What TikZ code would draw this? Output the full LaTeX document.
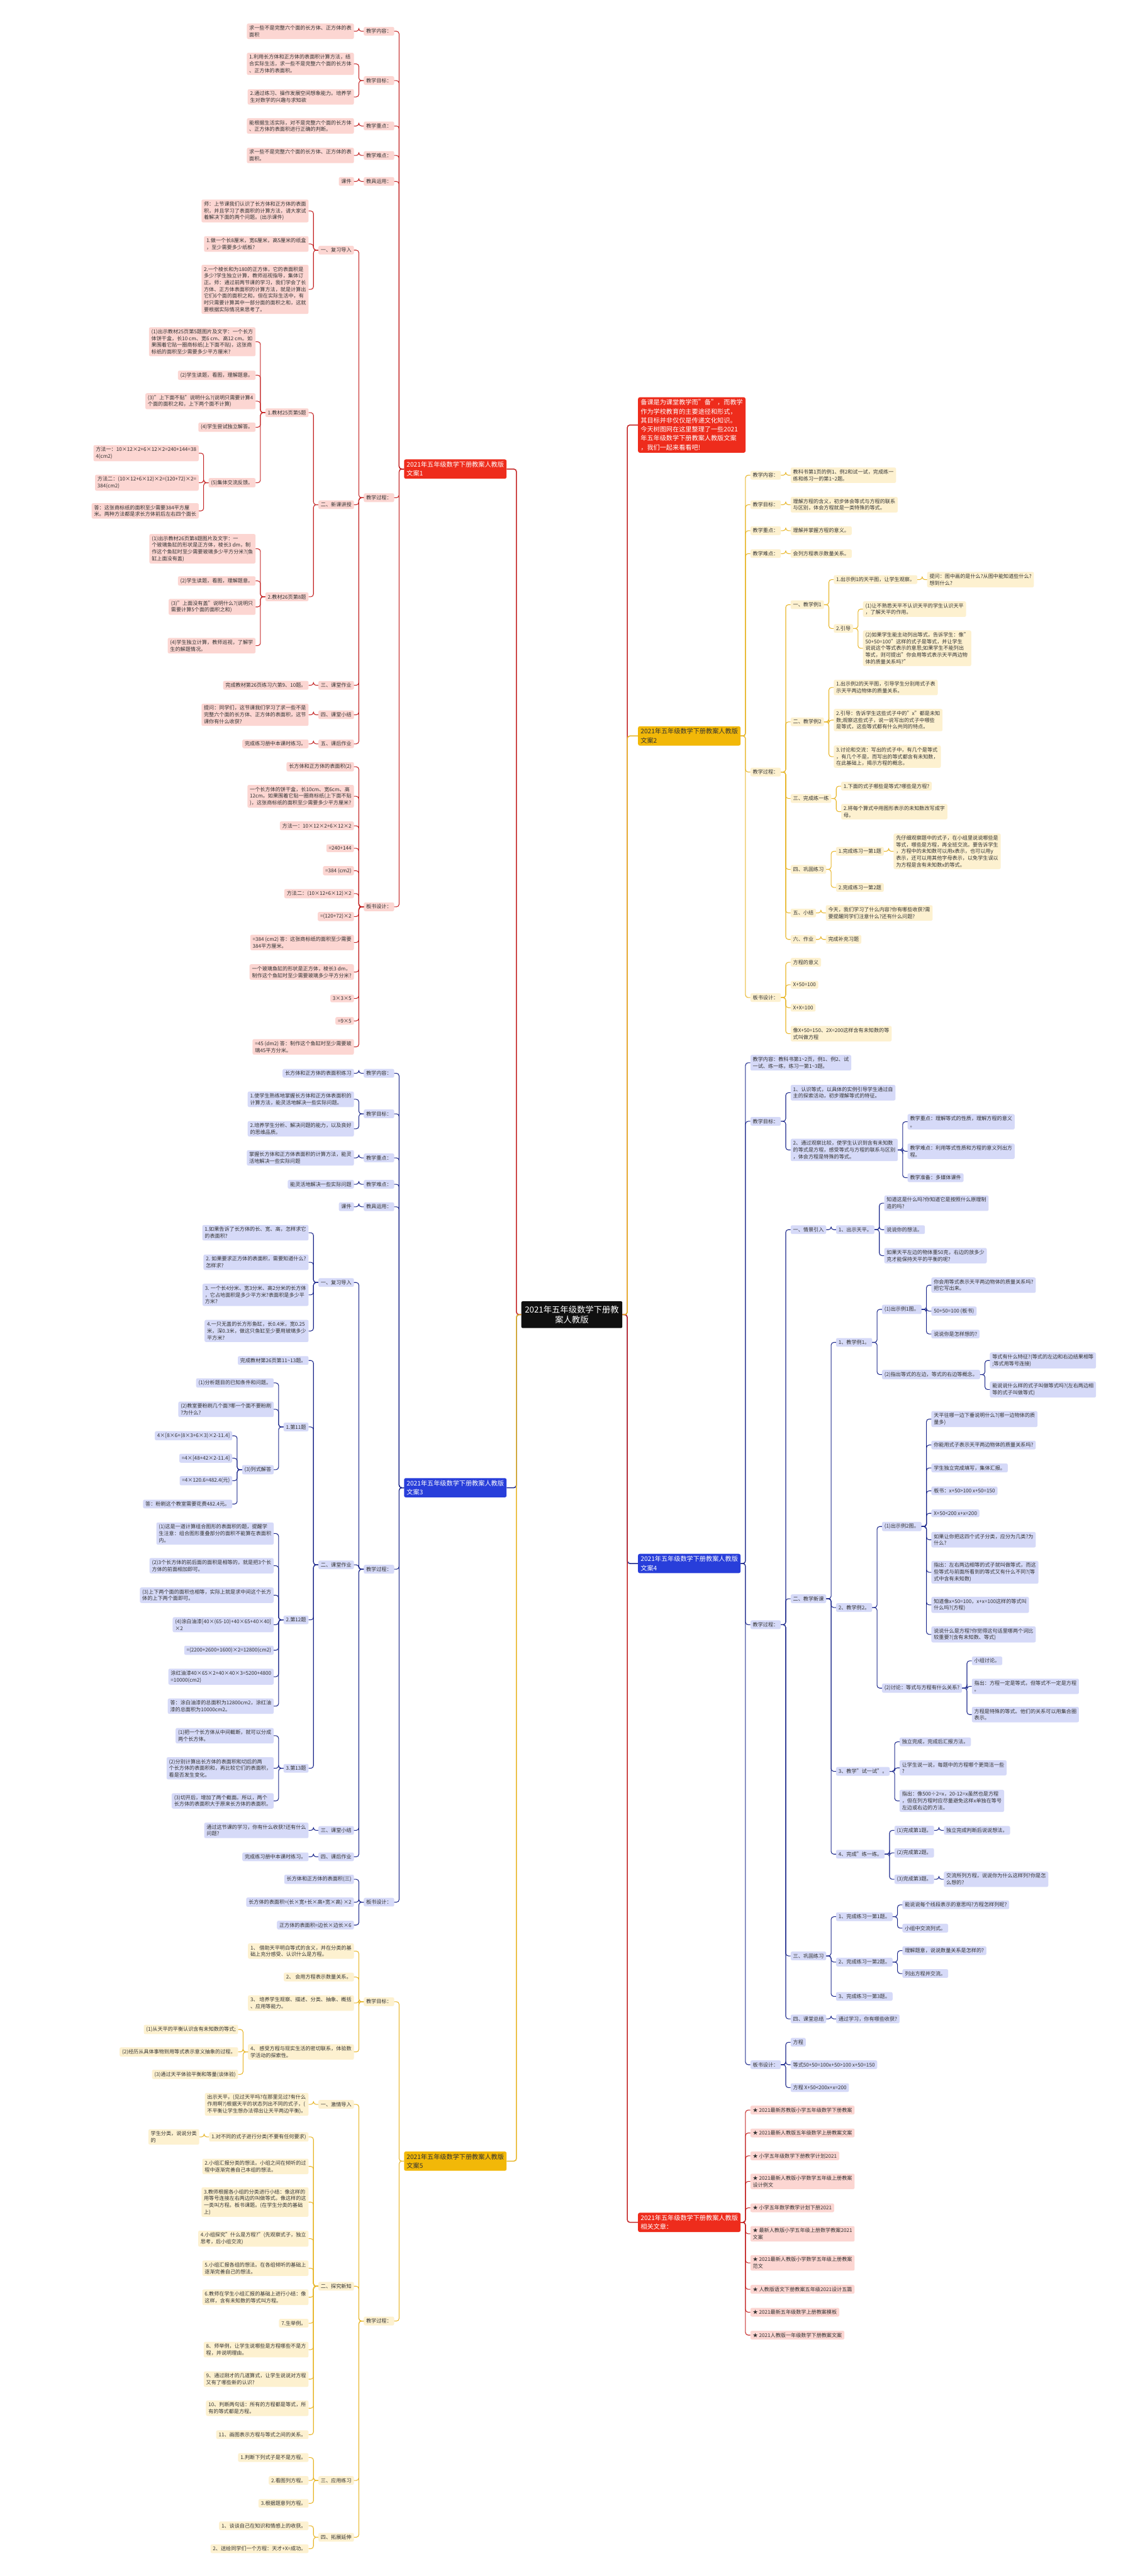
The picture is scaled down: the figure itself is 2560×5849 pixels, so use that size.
\documentclass[tikz,border=0pt]{standalone}
\usepackage{fontspec}
\setmainfont{Noto Sans CJK SC}
\usetikzlibrary{positioning,calc}
\definecolor{redln}{RGB}{196,36,36}
\definecolor{redfill}{RGB}{252,214,210}
\definecolor{redtop}{RGB}{238,44,28}
\definecolor{bluln}{RGB}{28,40,140}
\definecolor{blufill}{RGB}{214,218,248}
\definecolor{blutop}{RGB}{40,62,218}
\definecolor{yelln}{RGB}{232,182,40}
\definecolor{yelfill}{RGB}{253,241,208}
\definecolor{yeltop}{RGB}{242,184,8}
\definecolor{rootbk}{RGB}{16,16,16}
\definecolor{txtgray}{RGB}{51,51,51}

\tikzset{
  box/.style={rounded corners=3.5pt,inner xsep=5.5pt,inner ysep=4.5pt,align=left,
    text=txtgray,font=\fontsize{11.6}{15.3}\selectfont},
  rdbox/.style={box,fill=redfill},
  blbox/.style={box,fill=blufill},
  ylbox/.style={box,fill=yelfill},
  top/.style={rounded corners=4pt,inner xsep=6pt,inner ysep=5pt,align=left,
    font=\fontsize{14.5}{20.4}\selectfont},
  rdtop/.style={top,fill=redtop,text=white},
  bltop/.style={top,fill=blutop,text=white},
  yltop/.style={top,fill=yeltop,text=txtgray},
  rdline/.style={draw=redln,line width=1.5pt,rounded corners=6pt},
  blline/.style={draw=bluln,line width=1.5pt,rounded corners=6pt},
  ylline/.style={draw=yelln,line width=1.5pt,rounded corners=6pt},
  root/.style={fill=rootbk,text=white,rounded corners=3pt,align=center,
    inner xsep=8pt,inner ysep=10pt,font=\fontsize{19}{23}\selectfont},
}

% child on the left of its parent: branch, name, parent, y, text
\newcommand\kidL[5]{\node[#1box,anchor=east] (#2) at ($(#3.west |- 0,#4)+(-22,0)$) {#5};
  \draw[#1line] (#3.west) -- ++(-11,0) |- (#2.east);}
% child on the right of its parent
\newcommand\kidR[5]{\node[#1box,anchor=west] (#2) at ($(#3.east |- 0,#4)+(22,0)$) {#5};
  \draw[#1line] (#3.east) -- ++(11,0) |- (#2.west);}

\begin{document}
\begin{tikzpicture}[x=1pt,y=-1pt]
\fill[white] (0,0) rectangle (2560,5849);
\useasboundingbox (0,0) rectangle (2560,5849);

% centre and first level
\node[root] (root) at (1298,2985) {2021年五年级数学下册教\\案人教版};
\node[rdtop,anchor=west] (intro) at (1448,965) {备课是为课堂教学而"备"，而教学\\作为学校教育的主要途径和形式，\\其目标并非仅仅是传递文化知识。\\今天树图网在这里整理了一些2021\\年五年级数学下册教案人教版文案\\，我们一起来看看吧!};
\node[yltop,anchor=west] (w2) at (1448,1671) {2021年五年级数学下册教案人教版\\文案2};
\node[bltop,anchor=west] (w4) at (1448,3550) {2021年五年级数学下册教案人教版\\文案4};
\node[rdtop,anchor=west] (w6) at (1448,5046) {2021年五年级数学下册教案人教版\\相关文章：};
\node[rdtop,anchor=east] (w1) at (1150,1065) {2021年五年级数学下册教案人教版\\文案1};
\node[bltop,anchor=east] (w3) at (1150,3378) {2021年五年级数学下册教案人教版\\文案3};
\node[yltop,anchor=east] (w5) at (1150,4907) {2021年五年级数学下册教案人教版\\文案5};

\draw[blline,line width=2.2pt] (root.east) -- ++(11,0) |- (w4.west);
\draw[blline,line width=2.2pt] (root.west) -- ++(-11,0) |- (w3.east);
\draw[rdline,line width=2.2pt] (root.east) -- ++(11,0) |- (intro.west);
\draw[rdline,line width=2.2pt] (root.east) -- ++(11,0) |- (w6.west);
\draw[rdline,line width=2.2pt] (root.west) -- ++(-11,0) |- (w1.east);
\draw[ylline,line width=2.2pt] (root.east) -- ++(11,0) |- (w2.west);
\draw[ylline,line width=2.2pt] (root.west) -- ++(-11,0) |- (w5.east);

% ---------- 文案1 ----------
\kidL{rd}{a1}{w1}{71}{教学内容：}
\kidL{rd}{a1x}{a1}{71}{求一些不是完整六个面的长方体、正方体的表\\面积}
\kidL{rd}{a2}{w1}{183}{教学目标：}
\kidL{rd}{a2x}{a2}{145}{1.利用长方体和正方体的表面积计算方法，结\\合实际生活，求一些不是完整六个面的长方体\\、正方体的表面积。}
\kidL{rd}{a2y}{a2}{220}{2.通过练习、操作发展空间想象能力。培养学\\生对数学的兴趣与求知欲}
\kidL{rd}{a3}{w1}{286}{教学重点：}
\kidL{rd}{a3x}{a3}{286}{能根据生活实际，对不是完整六个面的长方体\\、正方体的表面积进行正确的判断。}
\kidL{rd}{a4}{w1}{353}{教学难点：}
\kidL{rd}{a4x}{a4}{353}{求一些不是完整六个面的长方体、正方体的表\\面积。}
\kidL{rd}{a5}{w1}{412}{教具运用：}
\kidL{rd}{a5x}{a5}{412}{课件}
\kidL{rd}{a6}{w1}{1130}{教学过程：}
\kidL{rd}{p1}{a6}{568}{一、复习导入}
\kidL{rd}{p1a}{p1}{479}{师：上节课我们认识了长方体和正方体的表面\\积，并且学习了表面积的计算方法，请大家试\\着解决下面的两个问题。(出示课件)}
\kidL{rd}{p1b}{p1}{554}{1.做一个长8厘米，宽6厘米，高5厘米的纸盒\\，至少需要多少纸板?}
\kidL{rd}{p1c}{p1}{657}{2.一个棱长和为180的正方体，它的表面积是\\多少?学生独立计算，教师巡视指导，集体订\\正。师：通过前两节课的学习，我们学会了长\\方体、正方体表面积的计算方法，就是计算出\\它们6个面的面积之和，但在实际生活中，有\\时只需要计算其中一部分面的面积之和，这就\\要根据实际情况来思考了。}
\kidL{rd}{p2}{a6}{1146}{二、新课讲授}
\kidL{rd}{p2a}{p2}{937}{1.教材25页第5题}
\kidL{rd}{p2a1}{p2a}{776}{(1)出示教材25页第5题图片及文字：一个长方\\体饼干盒，长10 cm、宽6 cm、高12 cm。如\\果围着它贴一圈商标纸(上下面不贴)，这张商\\标纸的面积至少需要多少平方厘米?}
\kidL{rd}{p2a2}{p2a}{852}{(2)学生读题，看图，理解题意。}
\kidL{rd}{p2a3}{p2a}{911}{(3)"上下面不贴"说明什么?(说明只需要计算4\\个面的面积之和，上下两个面不计算)}
\kidL{rd}{p2a4}{p2a}{970}{(4)学生尝试独立解答。}
\kidL{rd}{p2a5}{p2a}{1096}{(5)集体交流反馈。}
\kidL{rd}{p2a5a}{p2a5}{1029}{方法一：10×12×2+6×12×2=240+144=38\\4(cm2)}
\kidL{rd}{p2a5b}{p2a5}{1096}{方法二：(10×12+6×12)×2=(120+72)×2=\\384(cm2)}
\kidL{rd}{p2a5c}{p2a5}{1160}{答：这张商标纸的面积至少需要384平方厘\\米。两种方法都是求长方体前后左右四个面长}
\kidL{rd}{p2b}{p2}{1355}{2.教材26页第8题}
\kidL{rd}{p2b1}{p2b}{1246}{(1)出示教材26页第8题图片及文字：一\\个玻璃鱼缸的形状是正方体，棱长3 dm，制\\作这个鱼缸时至少需要玻璃多少平方分米?(鱼\\缸上面没有盖)}
\kidL{rd}{p2b2}{p2b}{1319}{(2)学生读题，看图，理解题意。}
\kidL{rd}{p2b3}{p2b}{1378}{(3)"上面没有盖"说明什么?(说明只\\需要计算5个面的面积之和)}
\kidL{rd}{p2b4}{p2b}{1466}{(4)学生独立计算，教师巡视，了解学\\生的解题情况。}
\kidL{rd}{p3}{a6}{1556}{三、课堂作业}
\kidL{rd}{p3x}{p3}{1556}{完成教材第26页练习六第9、10题。}
\kidL{rd}{p4}{a6}{1623}{四、课堂小结}
\kidL{rd}{p4x}{p4}{1623}{提问：同学们，这节课我们学习了求一些不是\\完整六个面的长方体、正方体的表面积，这节\\课你有什么收获?}
\kidL{rd}{p5}{a6}{1689}{五、课后作业}
\kidL{rd}{p5x}{p5}{1689}{完成练习册中本课时练习。}
\kidL{rd}{a7}{w1}{2059}{板书设计：}
\kidL{rd}{q1}{a7}{1741}{长方体和正方体的表面积(2)}
\kidL{rd}{q2}{a7}{1808}{一个长方体的饼干盒，长10cm、宽6cm、高\\12cm。如果围着它贴一圈商标纸(上下面不贴\\)，这张商标纸的面积至少需要多少平方厘米?}
\kidL{rd}{q3}{a7}{1875}{方法一：10×12×2+6×12×2}
\kidL{rd}{q4}{a7}{1926}{=240+144}
\kidL{rd}{q5}{a7}{1977}{=384 (cm2)}
\kidL{rd}{q6}{a7}{2029}{方法二：(10×12+6×12)×2}
\kidL{rd}{q7}{a7}{2081}{=(120+72)×2}
\kidL{rd}{q8}{a7}{2140}{=384 (cm2) 答：这张商标纸的面积至少需要\\384平方厘米。}
\kidL{rd}{q9}{a7}{2207}{一个玻璃鱼缸的形状是正方体，棱长3 dm，\\制作这个鱼缸时至少需要玻璃多少平方分米?}
\kidL{rd}{q10}{a7}{2267}{3×3×5}
\kidL{rd}{q11}{a7}{2318}{=9×5}
\kidL{rd}{q12}{a7}{2377}{=45 (dm2) 答：制作这个鱼缸时至少需要玻\\璃45平方分米。}

% ---------- 文案3 ----------
\kidL{bl}{h1}{w3}{2437}{教学内容：}
\kidL{bl}{h1x}{h1}{2437}{长方体和正方体的表面积练习}
\kidL{bl}{h2}{w3}{2529}{教学目标：}
\kidL{bl}{h2x}{h2}{2496}{1.使学生熟练地掌握长方体和正方体表面积的\\计算方法，能灵活地解决一些实际问题。}
\kidL{bl}{h2y}{h2}{2563}{2.培养学生分析、解决问题的能力，以及良好\\的思维品质。}
\kidL{bl}{h3}{w3}{2629}{教学重点：}
\kidL{bl}{h3x}{h3}{2629}{掌握长方体和正方体表面积的计算方法，能灵\\活地解决一些实际问题}
\kidL{bl}{h4}{w3}{2689}{教学难点：}
\kidL{bl}{h4x}{h4}{2689}{能灵活地解决一些实际问题}
\kidL{bl}{h5}{w3}{2740}{教具运用：}
\kidL{bl}{h5x}{h5}{2740}{课件}
\kidL{bl}{h6}{w3}{3563}{教学过程：}
\kidL{bl}{i1}{h6}{2912}{一、复习导入}
\kidL{bl}{i1a}{i1}{2799}{1.如果告诉了长方体的长、宽、高，怎样求它\\的表面积?}
\kidL{bl}{i1b}{i1}{2866}{2. 如果要求正方体的表面积，需要知道什么?\\怎样求?}
\kidL{bl}{i1c}{i1}{2940}{3. 一个长4分米、宽3分米、高2分米的长方体\\，它占地面积是多少平方米?表面积是多少平\\方米?}
\kidL{bl}{i1d}{i1}{3022}{4.一只无盖的长方形鱼缸，长0.4米，宽0.25\\米，深0.3米，做这只鱼缸至少要用玻璃多少\\平方米?}
\kidL{bl}{i2}{h6}{3553}{二、课堂作业}
\kidL{bl}{i2a}{i2}{3089}{完成教材第26页第11\textasciitilde13题。}
\kidL{bl}{i2b}{i2}{3240}{1.第11题}
\kidL{bl}{i2b1}{i2b}{3140}{(1)分析题目的已知条件和问题。}
\kidL{bl}{i2b2}{i2b}{3200}{(2)教室要粉刷几个面?哪一个面不要粉刷\\?为什么?}
\kidL{bl}{i2b3}{i2b}{3337}{(3)列式解答}
\kidL{bl}{i2b3a}{i2b3}{3260}{4×[8×6+(8×3+6×3)×2-11.4]}
\kidL{bl}{i2b3b}{i2b3}{3311}{=4×[48+42×2-11.4]}
\kidL{bl}{i2b3c}{i2b3}{3362}{=4×120.6=482.4(元)}
\kidL{bl}{i2b3d}{i2b3}{3415}{答：粉刷这个教室需要花费482.4元。}
\kidL{bl}{i2c}{i2}{3678}{2.第12题}
\kidL{bl}{i2c1}{i2c}{3482}{(1)这是一道计算组合图形的表面积的题，提醒学\\生注意：组合图形重叠部分的面积不能算在表面积\\内。}
\kidL{bl}{i2c2}{i2c}{3555}{(2)3个长方体的前后面的面积是相等的，就是把3个长\\方体的前面相加即可。}
\kidL{bl}{i2c3}{i2c}{3622}{(3)上下两个面的面积也相等，实际上就是求中间这个长方\\体的上下两个面即可。}
\kidL{bl}{i2c4}{i2c}{3689}{(4)涂白油漆[40×(65-10)+40×65+40×40]\\×2}
\kidL{bl}{i2c5}{i2c}{3747}{=(2200+2600+1600)×2=12800(cm2)}
\kidL{bl}{i2c6}{i2c}{3807}{涂红油漆40×65×2+40×40×3=5200+4800\\=10000(cm2)}
\kidL{bl}{i2c7}{i2c}{3874}{答：涂白油漆的总面积为12800cm2，涂红油\\漆的总面积为10000cm2。}
\kidL{bl}{i2d}{i2}{4015}{3.第13题}
\kidL{bl}{i2d1}{i2d}{3941}{(1)把一个长方体从中间截断，就可以分成\\两个长方体。}
\kidL{bl}{i2d2}{i2d}{4015}{(2)分别计算出长方体的表面积和切后的两\\个长方体的表面积和，再比较它们的表面积，\\看是否发生变化。}
\kidL{bl}{i2d3}{i2d}{4089}{(3)切开后，增加了两个截面。所以，两个\\长方体的表面积大于原来长方体的表面积。}
\kidL{bl}{i3}{h6}{4156}{三、课堂小结}
\kidL{bl}{i3x}{i3}{4156}{通过这节课的学习，你有什么收获?还有什么\\问题?}
\kidL{bl}{i4}{h6}{4216}{四、课后作业}
\kidL{bl}{i4x}{i4}{4216}{完成练习册中本课时练习。}
\kidL{bl}{h7}{w3}{4319}{板书设计：}
\kidL{bl}{h7a}{h7}{4267}{长方体和正方体的表面积(三)}
\kidL{bl}{h7b}{h7}{4319}{长方体的表面积=(长×宽+长×高+宽×高) ×2}
\kidL{bl}{h7c}{h7}{4371}{正方体的表面积=边长×边长×6}

% ---------- 文案5 ----------
\kidL{yl}{j1}{w5}{4545}{教学目标：}
\kidL{yl}{j1a}{j1}{4430}{1、 借助天平明白等式的含义，并在分类的基\\础上充分感受、认识什么是方程。}
\kidL{yl}{j1b}{j1}{4489}{2、 会用方程表示数量关系。}
\kidL{yl}{j1c}{j1}{4548}{3、 培养学生观察、描述、分类、抽象、概括\\、应用等能力。}
\kidL{yl}{j1d}{j1}{4659}{4、 感受方程与现实生活的密切联系，体验数\\学活动的探索性。}
\kidL{yl}{j1d1}{j1d}{4608}{(1)从天平的平衡认识含有未知数的等式;}
\kidL{yl}{j1d2}{j1d}{4659}{(2)经历从具体事物到用等式表示意义抽象的过程。}
\kidL{yl}{j1d3}{j1d}{4710}{(3)通过天平体验平衡和等量(谈体验)}
\kidL{yl}{j2}{w5}{5270}{教学过程：}
\kidL{yl}{k1}{j2}{4778}{一、激情导入}
\kidL{yl}{k1x}{k1}{4778}{出示天平，(见过天平吗?在那里见过?有什么\\作用啊?)根据天平的状态列出不同的式子，(\\不平衡让学生想办法得出让天平两边平衡)。}
\kidL{yl}{k2}{j2}{5191}{二、探究新知}
\kidL{yl}{k2a}{k2}{4852}{1.对不同的式子进行分类(不要有任何要求)}
\kidL{yl}{k2a1}{k2a}{4852}{学生分类，说说分类\\的}
\kidL{yl}{k2b}{k2}{4919}{2.小组汇报分类的想法。小组之间在倾听的过\\程中逐渐完善自己本组的想法。}
\kidL{yl}{k2c}{k2}{5000}{3.教师根据各小组的分类进行小结：像这样的\\用等号连接左右两边的叫做等式。像这样的这\\一类叫方程。板书课题。(在学生分类的基础\\上)}
\kidL{yl}{k2d}{k2}{5083}{4.小组探究"什么是方程?"(先观察式子，独立\\思考，后小组交流)}
\kidL{yl}{k2e}{k2}{5150}{5.小组汇报各组的想法。在各组倾听的基础上\\逐渐完善自己的想法。}
\kidL{yl}{k2f}{k2}{5216}{6.教师在学生小组汇报的基础上进行小结：像\\这样，含有未知数的等式叫方程。}
\kidL{yl}{k2g}{k2}{5275}{7.生举例。}
\kidL{yl}{k2h}{k2}{5335}{8、师举例，让学生说哪些是方程哪些不是方\\程，并说明理由。}
\kidL{yl}{k2i}{k2}{5402}{9、通过刚才的几道算式，让学生说说对方程\\又有了哪些新的认识?}
\kidL{yl}{k2j}{k2}{5468}{10、判断两句话：所有的方程都是等式，所\\有的等式都是方程。}
\kidL{yl}{k2k}{k2}{5528}{11、画图表示方程与等式之间的关系。}
\kidL{yl}{k3}{j2}{5632}{三、应用练习}
\kidL{yl}{k3a}{k3}{5580}{1.判断下列式子是不是方程。}
\kidL{yl}{k3b}{k3}{5632}{2.看图列方程。}
\kidL{yl}{k3c}{k3}{5684}{3.根据题意列方程。}
\kidL{yl}{k4}{j2}{5761}{四、拓展延伸}
\kidL{yl}{k4a}{k4}{5735}{1、谈谈自己在知识和情感上的收获。}
\kidL{yl}{k4b}{k4}{5787}{2、送给同学们一个方程：天才+X=成功。}

% ---------- 文案2 ----------
\kidR{yl}{c1}{w2}{1079}{教学内容：}
\kidR{yl}{c1x}{c1}{1079}{教科书第1页的例1、例2和试一试，完成练一\\练和练习一的第1\textasciitilde2题。}
\kidR{yl}{c2}{w2}{1146}{教学目标：}
\kidR{yl}{c2x}{c2}{1146}{理解方程的含义，初步体会等式与方程的联系\\与区别，体会方程就是一类特殊的等式。}
\kidR{yl}{c3}{w2}{1205}{教学重点：}
\kidR{yl}{c3x}{c3}{1205}{理解并掌握方程的意义。}
\kidR{yl}{c4}{w2}{1257}{教学难点：}
\kidR{yl}{c4x}{c4}{1257}{会列方程表示数量关系。}
\kidR{yl}{c5}{w2}{1753}{教学过程：}
\kidR{yl}{d1}{c5}{1373}{一、教学例1}
\kidR{yl}{d1a}{d1}{1316}{1.出示例1的天平图，让学生观察。}
\kidR{yl}{d1a1}{d1a}{1316}{提问：图中画的是什么?从图中能知道些什么?\\想到什么?}
\kidR{yl}{d1b}{d1}{1427}{2.引导}
\kidR{yl}{d1b1}{d1b}{1383}{(1)让不熟悉天平不认识天平的学生认识天平\\，了解天平的作用。}
\kidR{yl}{d1b2}{d1b}{1472}{(2)如果学生能主动列出等式，告诉学生：像"\\50+50=100"这样的式子是等式，并让学生\\说说这个等式表示的意思;如果学生不能列出\\等式，则可提出"你会用等式表示天平两边物\\体的质量关系吗?"}
\kidR{yl}{d2}{c5}{1639}{二、教学例2}
\kidR{yl}{d2a}{d2}{1561}{1.出示例2的天平图，引导学生分别用式子表\\示天平两边物体的质量关系。}
\kidR{yl}{d2b}{d2}{1635}{2.引导：告诉学生这些式子中的"x"都是未知\\数;观察这些式子，说一说写出的式子中哪些\\是等式，这些等式都有什么共同的特点。}
\kidR{yl}{d2c}{d2}{1718}{3.讨论和交流：写出的式子中，有几个是等式\\，有几个不是，而写出的等式都含有未知数，\\在此基础上，揭示方程的概念。}
\kidR{yl}{d3}{c5}{1813}{三、完成练一练}
\kidR{yl}{d3a}{d3}{1785}{1.下面的式子哪些是等式?哪些是方程?}
\kidR{yl}{d3b}{d3}{1843}{2.将每个算式中用图形表示的未知数改写成字\\母。}
\kidR{yl}{d4}{c5}{1974}{四、巩固练习}
\kidR{yl}{d4a}{d4}{1933}{1.完成练习一第1题}
\kidR{yl}{d4a1}{d4a}{1933}{先仔细观察题中的式子，在小组里说说哪些是\\等式，哪些是方程，再全班交流。要告诉学生\\，方程中的未知数可以用x表示，也可以用y\\表示，还可以用其他字母表示，以免学生误以\\为方程是含有未知数x的等式。}
\kidR{yl}{d4b}{d4}{2015}{2.完成练习一第2题}
\kidR{yl}{d5}{c5}{2073}{五、小结}
\kidR{yl}{d5x}{d5}{2073}{今天，我们学习了什么内容?你有哪些收获?需\\要提醒同学们注意什么?还有什么问题?}
\kidR{yl}{d6}{c5}{2133}{六、作业}
\kidR{yl}{d6x}{d6}{2133}{完成补充习题}
\kidR{yl}{c6}{w2}{2265}{板书设计：}
\kidR{yl}{e1}{c6}{2185}{方程的意义}
\kidR{yl}{e2}{c6}{2236}{X+50=100}
\kidR{yl}{e3}{c6}{2288}{X+X=100}
\kidR{yl}{e4}{c6}{2347}{像X+50=150、2X=200这样含有未知数的等\\式叫做方程}

% ---------- 文案4 ----------
\kidR{bl}{f1}{w4}{2413}{教学内容：教科书第1\textasciitilde2页，例1、例2、试\\一试、练一练，练习一第1\textasciitilde3题。}
\kidR{bl}{f2}{w4}{2546}{教学目标：}
\kidR{bl}{f2a}{f2}{2481}{1、认识等式，以具体的实例引导学生通过自\\主的探索活动，初步理解等式的特征。}
\kidR{bl}{f2b}{f2}{2611}{2、通过观察比较，使学生认识到含有未知数\\的等式是方程，感受等式与方程的联系与区别\\，体会方程是特殊的等式。}
\kidR{bl}{f2b1}{f2b}{2547}{教学重点：理解等式的性质，理解方程的意义\\。}
\kidR{bl}{f2b2}{f2b}{2614}{教学难点：利用等式性质和方程的意义列出方\\程。}
\kidR{bl}{f2b3}{f2b}{2674}{教学准备：多媒体课件}
\kidR{bl}{f3}{w4}{3689}{教学过程：}
\kidR{bl}{g1}{f3}{2792}{一、情景引入}
\kidR{bl}{g1a}{g1}{2792}{1、出示天平。}
\kidR{bl}{g1a1}{g1a}{2732}{知道这是什么吗?你知道它是按照什么原理制\\造的吗?}
\kidR{bl}{g1a2}{g1a}{2792}{说说你的想法。}
\kidR{bl}{g1a3}{g1a}{2851}{如果天平左边的物体重50克，右边的放多少\\克才能保持天平的平衡的呢?}
\kidR{bl}{g2}{f3}{3630}{二、教学新课}
\kidR{bl}{g2a}{g2}{3048}{1、教学例1。}
\kidR{bl}{g2a1}{g2a}{2973}{(1)出示例1图。}
\kidR{bl}{g2a1a}{g2a1}{2918}{你会用等式表示天平两边物体的质量关系吗?\\把它写出来。}
\kidR{bl}{g2a1b}{g2a1}{2977}{50+50=100 (板书)}
\kidR{bl}{g2a1c}{g2a1}{3029}{说说你是怎样想的?}
\kidR{bl}{g2a2}{g2a}{3121}{(2)指出等式的左边，等式的右边等概念。}
\kidR{bl}{g2a2a}{g2a2}{3089}{等式有什么特征?(等式的左边和右边结果相等\\;等式用等号连接)}
\kidR{bl}{g2a2b}{g2a2}{3155}{能说说什么样的式子叫做等式吗?(左右两边相\\等的式子叫做等式)}
\kidR{bl}{g2b}{g2}{3650}{2、教学例2。}
\kidR{bl}{g2b1}{g2b}{3466}{(1)出示例2图。}
\kidR{bl}{g2b1a}{g2b1}{3222}{天平往哪一边下垂说明什么?(哪一边物体的质\\量多)}
\kidR{bl}{g2b1b}{g2b1}{3281}{你能用式子表示天平两边物体的质量关系吗?}
\kidR{bl}{g2b1c}{g2b1}{3333}{学生独立完成填写，集体汇报。}
\kidR{bl}{g2b1d}{g2b1}{3385}{板书：x+50>100 x+50=150}
\kidR{bl}{g2b1e}{g2b1}{3436}{X+50<200 x+x=200}
\kidR{bl}{g2b1f}{g2b1}{3496}{如果让你把这四个式子分类，应分为几类?为\\什么?}
\kidR{bl}{g2b1g}{g2b1}{3570}{指出：左右两边相等的式子就叫做等式，而这\\些等式与前面所看到的等式又有什么不同?(等\\式中含有未知数)}
\kidR{bl}{g2b1h}{g2b1}{3644}{知道像x+50=100，x+x=100这样的等式叫\\什么吗?(方程)}
\kidR{bl}{g2b1i}{g2b1}{3711}{说说什么是方程?你觉得这句话里哪两个词比\\较重要?(含有未知数、等式)}
\kidR{bl}{g2b2}{g2b}{3833}{(2)讨论：等式与方程有什么关系?}
\kidR{bl}{g2b2a}{g2b2}{3771}{小组讨论。}
\kidR{bl}{g2b2b}{g2b2}{3829}{指出：方程一定是等式，但等式不一定是方程\\。}
\kidR{bl}{g2b2c}{g2b2}{3893}{方程是特殊的等式。他们的关系可以用集合圈\\表示。}
\kidR{bl}{g2c}{g2}{4022}{3、教学"试一试"。}
\kidR{bl}{g2c1}{g2c}{3955}{独立完成，完成后汇报方法。}
\kidR{bl}{g2c2}{g2c}{4014}{让学生说一说，每题中的方程哪个更简洁一些\\?}
\kidR{bl}{g2c3}{g2c}{4089}{指出：像500÷2=x，20-12=x虽然也是方程\\，但在列方程时应尽量避免这样x单独在等号\\左边或右边的方法。}
\kidR{bl}{g2d}{g2}{4210}{4、完成"练一练。}
\kidR{bl}{g2d1}{g2d}{4156}{(1)完成第1题。}
\kidR{bl}{g2d1a}{g2d1}{4156}{独立完成判断后说说想法。}
\kidR{bl}{g2d2}{g2d}{4207}{(2)完成第2题。}
\kidR{bl}{g2d3}{g2d}{4267}{(3)完成第3题。}
\kidR{bl}{g2d3a}{g2d3}{4267}{交流所列方程，说说你为什么这样列?你是怎\\么想的?}
\kidR{bl}{g3}{f3}{4441}{三、巩固练习}
\kidR{bl}{g3a}{g3}{4352}{1、完成练习一第1题。}
\kidR{bl}{g3a1}{g3a}{4325}{能说说每个线段表示的意思吗?方程怎样列呢?}
\kidR{bl}{g3a2}{g3a}{4378}{小组中交流列式。}
\kidR{bl}{g3b}{g3}{4455}{2、完成练习一第2题。}
\kidR{bl}{g3b1}{g3b}{4429}{理解题意，说说数量关系是怎样的?}
\kidR{bl}{g3b2}{g3b}{4481}{列出方程并交流。}
\kidR{bl}{g3c}{g3}{4533}{3、完成练习一第3题。}
\kidR{bl}{g4}{f3}{4584}{四、课堂总结}
\kidR{bl}{g4x}{g4}{4584}{通过学习，你有哪些收获?}
\kidR{bl}{f4}{w4}{4688}{板书设计：}
\kidR{bl}{f4a}{f4}{4637}{方程}
\kidR{bl}{f4b}{f4}{4688}{等式50+50=100x+50>100 x+50=150}
\kidR{bl}{f4c}{f4}{4740}{方程 X+50<200x+x=200}

% ---------- 相关文章 ----------
\kidR{rd}{m1}{w6}{4791}{★ 2021最新苏教版小学五年级数学下册教案}
\kidR{rd}{m2}{w6}{4843}{★ 2021最新人教版五年级数学上册教案文案}
\kidR{rd}{m3}{w6}{4895}{★ 小学五年级数学下册教学计划2021}
\kidR{rd}{m4}{w6}{4953}{★ 2021最新人教版小学数学五年级上册教案\\设计例文}
\kidR{rd}{m5}{w6}{5013}{★ 小学五年数学教学计划下册2021}
\kidR{rd}{m6}{w6}{5072}{★ 最新人教版小学五年级上册数学教案2021\\文案}
\kidR{rd}{m7}{w6}{5138}{★ 2021最新人教版小学数学五年级上册教案\\范文}
\kidR{rd}{m8}{w6}{5198}{★ 人教版语文下册教案五年级2021设计五篇}
\kidR{rd}{m9}{w6}{5250}{★ 2021最新五年级数学上册教案模板}
\kidR{rd}{m10}{w6}{5302}{★ 2021人教版一年级数学下册教案文案}
\end{tikzpicture}
\end{document}
